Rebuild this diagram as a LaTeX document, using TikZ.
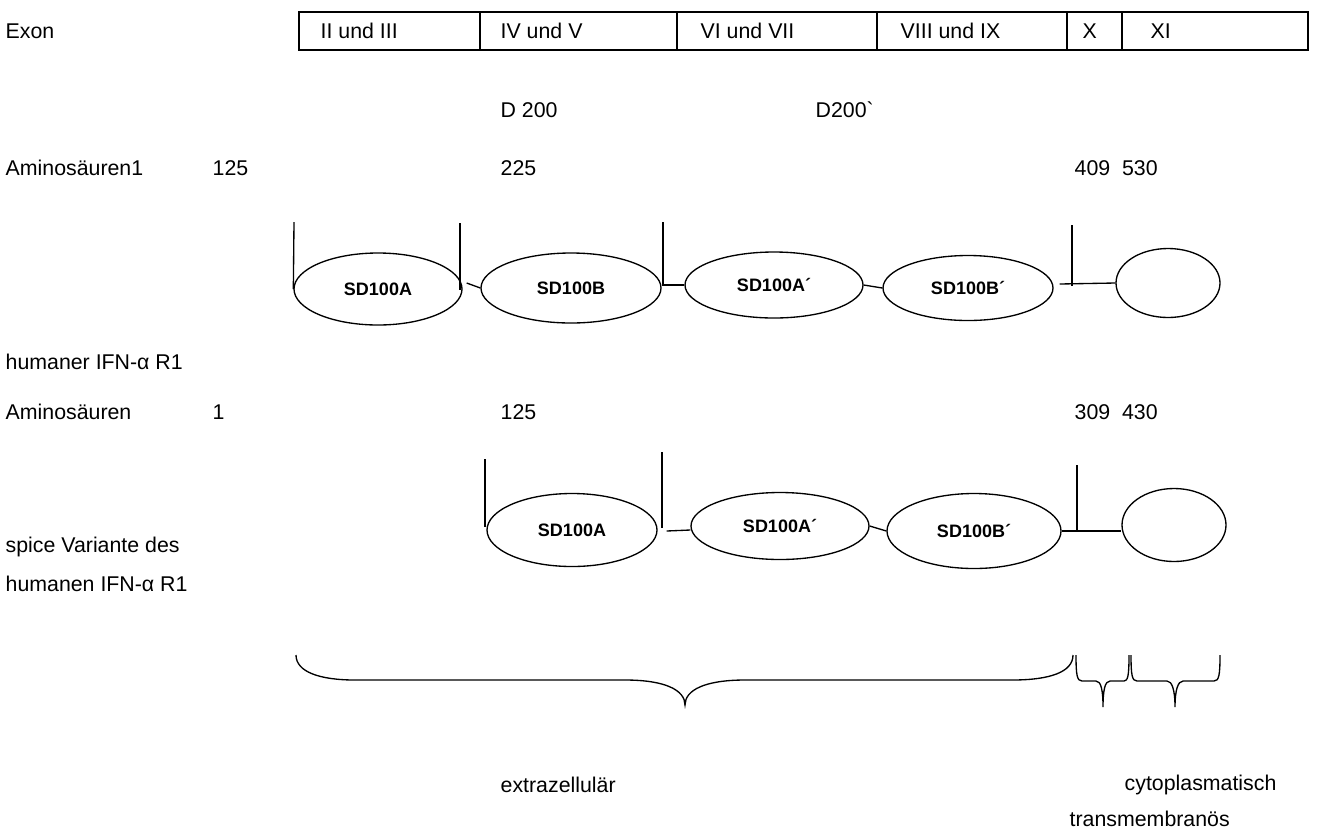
\documentclass[tikz,border=0pt]{standalone}
\usepackage{fontspec}
\setmainfont{Liberation Sans}[Ligatures=TeXOff]
\usetikzlibrary{shapes.geometric}
\begin{document}
\begin{tikzpicture}[x=0.75pt,y=-0.75pt,
  line width=1pt,
  lbl/.style={anchor=west,inner sep=0pt,font=\fontsize{16}{19}\selectfont},
  dom/.style={ellipse,draw,line width=1pt,inner sep=0pt,font=\bfseries\fontsize{13.5}{16}\selectfont}]
\useasboundingbox (0,0) rectangle (1323,829);

% exon table
\draw (299,12) rectangle (1308,50);
\foreach \x in {480,677,877,1067,1122} \draw (\x,12) -- (\x,50);
\node[lbl] (e1) at (320,31) {II und III};
\node[lbl] (e2) at (500,31) {IV und V};
\node[lbl] (e3) at (700,31) {VI und VII};
\node[lbl] (e4) at (900,31) {VIII und IX};
\node[lbl] (e5) at (1082,31) {X};
\node[lbl] (e6) at (1150,31) {XI};

% row labels
\node[lbl] (exon) at (5,31) {Exon};
\node[lbl] (d200) at (500,110) {D 200};
\node[lbl] (d200b) at (815,110) {D200`};
\node[lbl] (aa1) at (5,168) {Aminosäuren1};
\node[lbl] (n125) at (212,168) {125};
\node[lbl] (n225) at (500,168) {225};
\node[lbl] (n409) at (1074,168) {409\ \ 530};
\node[lbl] (hum) at (5,362) {humaner IFN-α R1};
\node[lbl] (aa2) at (5,412) {Aminosäuren};
\node[lbl] (m1) at (212,412) {1};
\node[lbl] (m125) at (500,412) {125};
\node[lbl] (m309) at (1074,412) {309\ \ 430};
\node[lbl] (spl1) at (5,547) {spice Variante des};
\node[lbl] (spl2) at (5,584) {humanen IFN-α R1};
\node[lbl] (extra) at (500,785) {extrazellulär};
\node[lbl] (cyto) at (1124,785) {cytoplasmatisch};
\node[lbl] (trans) at (1069,819) {transmembranös};

% full-length receptor
\node[dom,minimum width=126pt,minimum height=54pt] (A1) at (378,289) {SD100A};
\node[dom,minimum width=135pt,minimum height=52.5pt] (B1) at (571,288) {SD100B};
\node[dom,minimum width=133.5pt,minimum height=49.5pt] (C1) at (774,285) {SD100A´};
\node[dom,minimum width=127.5pt,minimum height=48.75pt] (D1) at (968,288) {SD100B´};
\node[dom,minimum width=78pt,minimum height=51.75pt] (Z1) at (1168,283) {};

\draw (294,222) -- (A1.west);
\draw (460,223) -- (460,290);
\draw (A1.east) ++(4,-6) -- (B1.west);
\draw (663,222) |- (C1.west);
\draw (C1.east) -- (D1.west);
\draw (D1.east) ++(6,-4) -- (Z1.west);
\draw (1072,225) -- (1072,286);

% splice variant
\node[dom,minimum width=127.5pt,minimum height=54.75pt] (A2) at (572,530) {SD100A};
\node[dom,minimum width=133.5pt,minimum height=50.25pt] (C2) at (780,526) {SD100A´};
\node[dom,minimum width=130.5pt,minimum height=56.25pt] (D2) at (974,531) {SD100B´};
\node[dom,minimum width=78pt,minimum height=54.75pt] (Z2) at (1174,525) {};

\draw (485,459) -- (485,527);
\draw (662,452) -- (662,528);
\draw (A2.east) ++(9,1) -- (C2.west |- A2.east);
\draw (C2.east) -- (D2.west);
\draw (D2.east) -- (Z2.west |- D2.east);
\draw (1077,465) -- (1077,531);

% braces
\draw (296,655) .. controls (296,672) and (320,680) .. (355,680) -- (625,680)
  .. controls (665,680) and (685,690) .. (685,705)
  .. controls (685,690) and (705,680) .. (745,680) -- (1012,680)
  .. controls (1050,680) and (1073,672) .. (1073,655);
\draw (1076,655) .. controls (1076,675) and (1077,681) .. (1082,681) -- (1096,681)
  .. controls (1101,681) and (1103,690) .. (1103,707)
  .. controls (1103,690) and (1105,681) .. (1110,681) -- (1124,681)
  .. controls (1128,681) and (1129,675) .. (1129,655);
\draw (1131,655) .. controls (1131,675) and (1132,681) .. (1137,681) -- (1167,681)
  .. controls (1172,681) and (1175,690) .. (1175,707)
  .. controls (1175,690) and (1178,681) .. (1183,681) -- (1214,681)
  .. controls (1219,681) and (1220,675) .. (1220,655);
\end{tikzpicture}
\end{document}
